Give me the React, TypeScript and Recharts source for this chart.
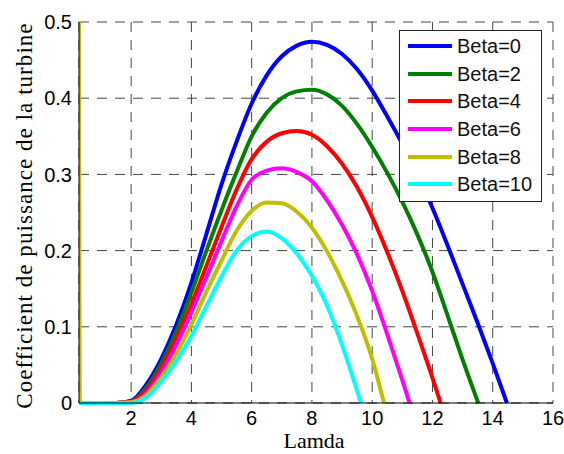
import { LineChart, Line, XAxis, YAxis, CartesianGrid, Legend } from "recharts";

// lambda grid shared by all curves
const lambda = [
  0.27, 0.3, 1, 1.5, 2, 2.5, 3, 3.5, 4, 4.5, 5, 5.5, 6, 6.5, 7, 7.5, 8, 8.5, 9,
  9.5, 10, 10.5, 11, 11.5, 12, 12.5, 13, 13.5, 14,
];

const cpBeta0 = [
  0, 0, 0, 0, 0.003, 0.024, 0.058, 0.103, 0.158, 0.222, 0.287, 0.343, 0.393,
  0.43, 0.455, 0.469, 0.474, 0.47, 0.458, 0.438, 0.41, 0.376, 0.34, 0.3,
  0.256, 0.207, 0.156, 0.105, 0.052,
];
const cpBeta2 = [
  0, 0, 0, 0, 0.002, 0.02, 0.052, 0.094, 0.145, 0.2, 0.253, 0.303, 0.35,
  0.381, 0.4, 0.409, 0.411, 0.405, 0.39, 0.366, 0.336, 0.302, 0.264, 0.221,
  0.172, 0.115, 0.057,
];
const cpBeta4 = [
  0, 0, 0, 0, 0.002, 0.017, 0.046, 0.085, 0.13, 0.18, 0.231, 0.28, 0.32,
  0.343, 0.354, 0.357, 0.352, 0.337, 0.314, 0.283, 0.244, 0.198, 0.147, 0.091,
  0.033,
];
const cpBeta6 = [
  0, 0, 0, 0, 0.001, 0.013, 0.04, 0.076, 0.119, 0.165, 0.212, 0.258, 0.293,
  0.305, 0.308, 0.303, 0.291, 0.266, 0.234, 0.195, 0.147, 0.09, 0.03,
];
const cpBeta8 = [
  0.5, 0, 0, 0, 0.001, 0.01, 0.034, 0.065, 0.103, 0.146, 0.187, 0.226, 0.252,
  0.263, 0.262, 0.251, 0.23, 0.199, 0.16, 0.114, 0.058,
];
const cpBeta10 = [
  0, 0, 0, 0, 0, 0.007, 0.028, 0.055, 0.088, 0.127, 0.166, 0.2, 0.219, 0.225,
  0.216, 0.196, 0.167, 0.128, 0.076, 0.016,
];

// lambda where each curve comes back to zero
const zeroAt = [14.47, 13.52, 12.27, 11.24, 10.39, 9.63];

const seriesNames = ["Beta=0", "Beta=2", "Beta=4", "Beta=6", "Beta=8", "Beta=10"];
const seriesColors = ["#0000ff", "#008000", "#ff0000", "#ff00ff", "#bfbf00", "#00ffff"];
const seriesValues = [cpBeta0, cpBeta2, cpBeta4, cpBeta6, cpBeta8, cpBeta10];

const xTicks = [2, 4, 6, 8, 10, 12, 14, 16];
const yTicks = [0, 0.1, 0.2, 0.3, 0.4, 0.5];

function toPoints(values: number[], end: number) {
  const pts = values.map((y, i) => ({ x: lambda[i], y }));
  pts.push({ x: end, y: 0 });
  return pts;
}

const tickStyle = { fill: "#000", fontSize: 20, fontFamily: "Liberation Sans, Arial, sans-serif" };

function XTitle(props: any) {
  const vb = props.viewBox;
  return (
    <text
      x={vb.x + vb.width / 2 - 2}
      y={vb.y + 45}
      textAnchor="middle"
      fontFamily="Liberation Serif, Times New Roman, serif"
      fontSize={22}
      fill="#000"
    >
      Lamda
    </text>
  );
}

function YTitle(props: any) {
  const vb = props.viewBox;
  const x = vb.x + 13;
  const y = vb.y + vb.height / 2 + 3;
  return (
    <text
      x={x}
      y={y}
      transform={`rotate(-90, ${x}, ${y})`}
      textAnchor="middle"
      fontFamily="Liberation Serif, Times New Roman, serif"
      fontSize={23}
      letterSpacing={1.05}
      fill="#000"
    >
      Coefficient de puissance de la turbine
    </text>
  );
}

function LegendBox(props: any) {
  const items = [...(props.payload || [])].sort(
    (a: any, b: any) => seriesNames.indexOf(a.value) - seriesNames.indexOf(b.value)
  );
  return (
    <div
      style={{
        boxSizing: "border-box",
        width: 143,
        height: 172,
        border: "1px solid #222",
        background: "#fff",
        paddingTop: 1,
        paddingLeft: 8,
        fontFamily: "Liberation Sans, Arial, sans-serif",
        fontSize: 20,
        color: "#111",
      }}
    >
      {items.map((it: any) => (
        <div key={it.value} style={{ display: "flex", alignItems: "center", height: 27.7 }}>
          <div style={{ width: 44, height: 4, background: it.color, marginRight: 5 }} />
          <span style={{ lineHeight: "20px" }}>{it.value}</span>
        </div>
      ))}
    </div>
  );
}

export default function App() {
  return (
    <div style={{ position: "absolute", left: 0, top: 0, background: "#fff" }}>
      <LineChart width={564} height={454} margin={{ top: 22, right: 11, bottom: 21, left: 19 }}>
        <CartesianGrid stroke="#444" strokeDasharray="10 8" />
        <XAxis
          type="number"
          dataKey="x"
          domain={[0.27, 16]}
          ticks={xTicks}
          interval={0}
          allowDataOverflow
          height={30}
          tickSize={0}
          tickMargin={8}
          tick={tickStyle}
          axisLine={{ stroke: "#000" }}
          label={<XTitle />}
        />
        <YAxis
          type="number"
          domain={[0, 0.5]}
          ticks={yTicks}
          interval={0}
          width={60}
          tickSize={0}
          tickMargin={7}
          tick={tickStyle}
          tickFormatter={(v: number) => String(v)}
          axisLine={{ stroke: "#000" }}
          label={<YTitle />}
        />
        <Legend
          layout="vertical"
          align="center"
          verticalAlign="middle"
          wrapperStyle={{ left: 399, top: 30, width: 143, height: 172 }}
          content={LegendBox}
        />
        {seriesValues.map((vals, i) => (
          <Line
            key={seriesNames[i]}
            name={seriesNames[i]}
            data={toPoints(vals, zeroAt[i])}
            dataKey="y"
            type="monotone"
            stroke={seriesColors[i]}
            strokeWidth={4}
            dot={false}
            isAnimationActive={false}
          />
        ))}
      </LineChart>
    </div>
  );
}
